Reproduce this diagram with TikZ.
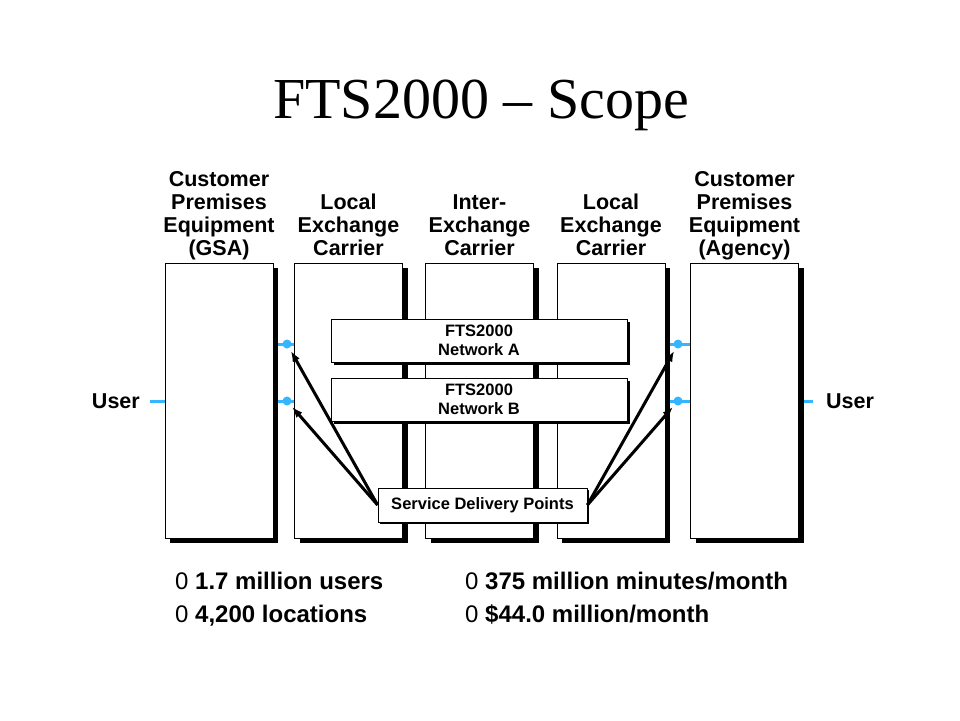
\documentclass[tikz,border=0pt]{standalone}
\usepackage{fontspec}
\setmainfont{Liberation Sans}
\newfontfamily\titlefont{Liberation Serif}
\usetikzlibrary{positioning,shadows,backgrounds,arrows.meta}
\definecolor{linkblue}{RGB}{51,181,255}

\tikzset{
	column/.style={draw=black, line width=0.8pt, fill=white, inner sep=0pt,
		minimum width=108pt, minimum height=275pt,
		general shadow={fill=black, shadow xshift=5pt, shadow yshift=-5pt}},
	netbox/.style={draw=black, line width=0.8pt, fill=white, inner sep=0pt, align=center,
		minimum width=296pt, minimum height=43pt,
		font=\bfseries\fontsize{16.5}{18.5}\selectfont,
		general shadow={fill=black, shadow xshift=3pt, shadow yshift=-3pt}},
	sdpbox/.style={draw=black, line width=0.8pt, fill=white, inner sep=0pt,
		minimum width=209pt, minimum height=34pt,
		font=\bfseries\fontsize{16.5}{18.5}\selectfont,
		general shadow={fill=black, shadow xshift=2pt, shadow yshift=-2pt}},
	head/.style={align=center, inner sep=0pt, text depth=5pt,
		font=\bfseries\fontsize{21.5}{23}\selectfont},
	userlabel/.style={inner ysep=0pt, font=\bfseries\fontsize{21.5}{23}\selectfont},
	fact/.style={inner sep=0pt, anchor=base west, font=\fontsize{24}{26}\selectfont},
	dot/.style={circle, fill=linkblue, inner sep=0pt, minimum size=9pt},
	link/.style={draw=linkblue, line width=3pt},
	pointer/.style={-{Latex[length=11pt,width=8pt]}, line width=3pt, shorten >=3pt}
}

\begin{document}
\begin{tikzpicture}[x=1pt, y=-1pt]
	\useasboundingbox (0,0) rectangle (960,720);

	% title
	\node[anchor=base, inner sep=0pt, font=\titlefont\fontsize{58}{60}\selectfont] (title) at (481,118) {FTS2000 – Scope};

	% the five columns
	\node[column] (c1) at (219,400.5) {};
	\node[column] (c2) at (348.5,400.5) {};
	\node[column] (c3) at (479.5,400.5) {};
	\node[column] (c4) at (611,400.5) {};
	\node[column] (c5) at (744.5,400.5) {};

	\node[head, above=2pt of c1] (h1) {Customer\\Premises\\Equipment\\(GSA)};
	\node[head, above=2pt of c2] (h2) {Local\\Exchange\\Carrier};
	\node[head, above=2pt of c3] (h3) {Inter-\\Exchange\\Carrier};
	\node[head, above=2pt of c4] (h4) {Local\\Exchange\\Carrier};
	\node[head, above=2pt of c5] (h5) {Customer\\Premises\\Equipment\\(Agency)};

	% networks
	\node[netbox] (neta) at (479,340.5) {FTS2000\\Network A};
	\node[netbox] (netb) at (479,399.5) {FTS2000\\Network B};
	\node[sdpbox] (sdp) at (482.5,505) {Service Delivery Points};

	% users and delivery points
	\node[userlabel, inner xsep=10pt, anchor=east] (user1) at (150,401) {User};
	\node[userlabel, inner xsep=13pt, anchor=west] (user2) at (813,401) {User};
	\node[dot] (d1) at (287,344) {};
	\node[dot] (d2) at (287,401) {};
	\node[dot] (d3) at (678,344) {};
	\node[dot] (d4) at (678,401) {};

	\begin{scope}[on background layer]
		\draw[link] (user1.east) -- (c1.west |- user1.east);
		\draw[link] (c5.east |- user2.west) -- (user2.west);
		\draw[link] (c1.east |- d1) -- (c2.west |- d1);
		\draw[link] (c1.east |- d2) -- (c2.west |- d2);
		\draw[link] (c4.east |- d3) -- (c5.west |- d3);
		\draw[link] (c4.east |- d4) -- (c5.west |- d4);
	\end{scope}

	\draw[pointer] (sdp.west) -- (d1);
	\draw[pointer] (sdp.west) -- (d2);
	\draw[pointer] (sdp.east) -- (d3);
	\draw[pointer] (sdp.east) -- (d4);

	% figures
	\node[fact] (f1) at (175,589) {0 \textbf{1.7 million users}};
	\node[fact] (f2) at (175,622) {0 \textbf{4,200 locations}};
	\node[fact] (f3) at (465,589) {0 \textbf{375 million minutes/month}};
	\node[fact] (f4) at (465,622) {0 \textbf{\$44.0 million/month}};
\end{tikzpicture}
\end{document}
